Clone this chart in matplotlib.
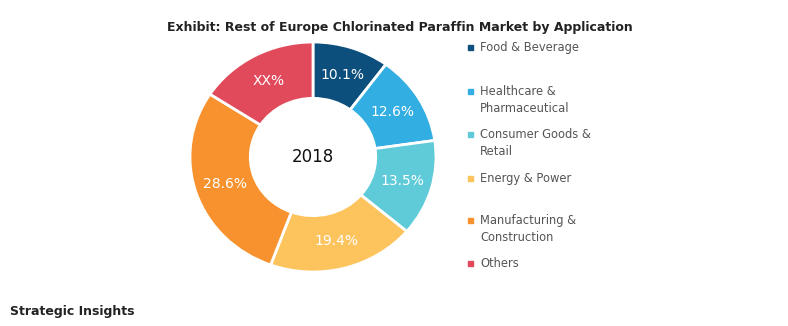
import matplotlib.pyplot as plt
from matplotlib.patches import Rectangle

# market share by application, 2018
labels = ["Food & Beverage", "Healthcare &\nPharmaceutical", "Consumer Goods &\nRetail",
          "Energy & Power", "Manufacturing &\nConstruction", "Others"]
shares = [10.1, 12.6, 13.5, 19.4, 28.6, 15.8]
slice_text = ["10.1%", "12.6%", "13.5%", "19.4%", "28.6%", "XX%"]
colors = ["#0c4f7c", "#33aee2", "#5fcbd8", "#fdc35d", "#f7922e", "#e14a5b"]

W, H = 788, 326
fig = plt.figure(figsize=(W / 100, H / 100), dpi=100)

# donut is drawn slightly wider than tall: 246 x 230 px, centre (313, 157)
cx, cy, rx, ry = 313, 157, 123, 115
ax = fig.add_axes([(cx - rx) / W, (H - cy - ry) / H, 2 * rx / W, 2 * ry / H])
wedges, texts = ax.pie(shares, colors=colors, startangle=90, counterclock=False,
                       labels=slice_text, labeldistance=0.755,
                       wedgeprops=dict(width=0.49, edgecolor="white", linewidth=2),
                       textprops=dict(color="white", fontsize=10))
for t in texts:
    t.set_ha("center")
    t.set_va("center")
ax.text(0, 0, "2018", ha="center", va="center", fontsize=12, color="#111111")
ax.set_xlim(-1.0, 1.0)
ax.set_ylim(-1.0, 1.0)
ax.set_aspect("auto")
ax.axis("off")

fig.text(400 / W, 1 - 28 / H, "Exhibit: Rest of Europe Chlorinated Paraffin Market by Application",
         ha="center", va="center", fontsize=9, fontweight="bold", color="#222222")

# legend entries, one fixed slot each
legend_y = [47, 91, 134, 178, 220, 263]
for lab, col, y in zip(labels, colors, legend_y):
    fig.patches.append(Rectangle((468 / W, 1 - (y + 3) / H), 5 / W, 5 / H,
                                 transform=fig.transFigure, color=col))
    fig.text(480 / W, 1 - (y - 6) / H, lab, ha="left", va="top", fontsize=8.3,
             color="#555555", linespacing=1.4)

fig.text(10 / W, 1 - 312 / H, "Strategic Insights", ha="left", va="center",
         fontsize=9, fontweight="bold", color="#222222")

fig.savefig("out.png", dpi=100)
